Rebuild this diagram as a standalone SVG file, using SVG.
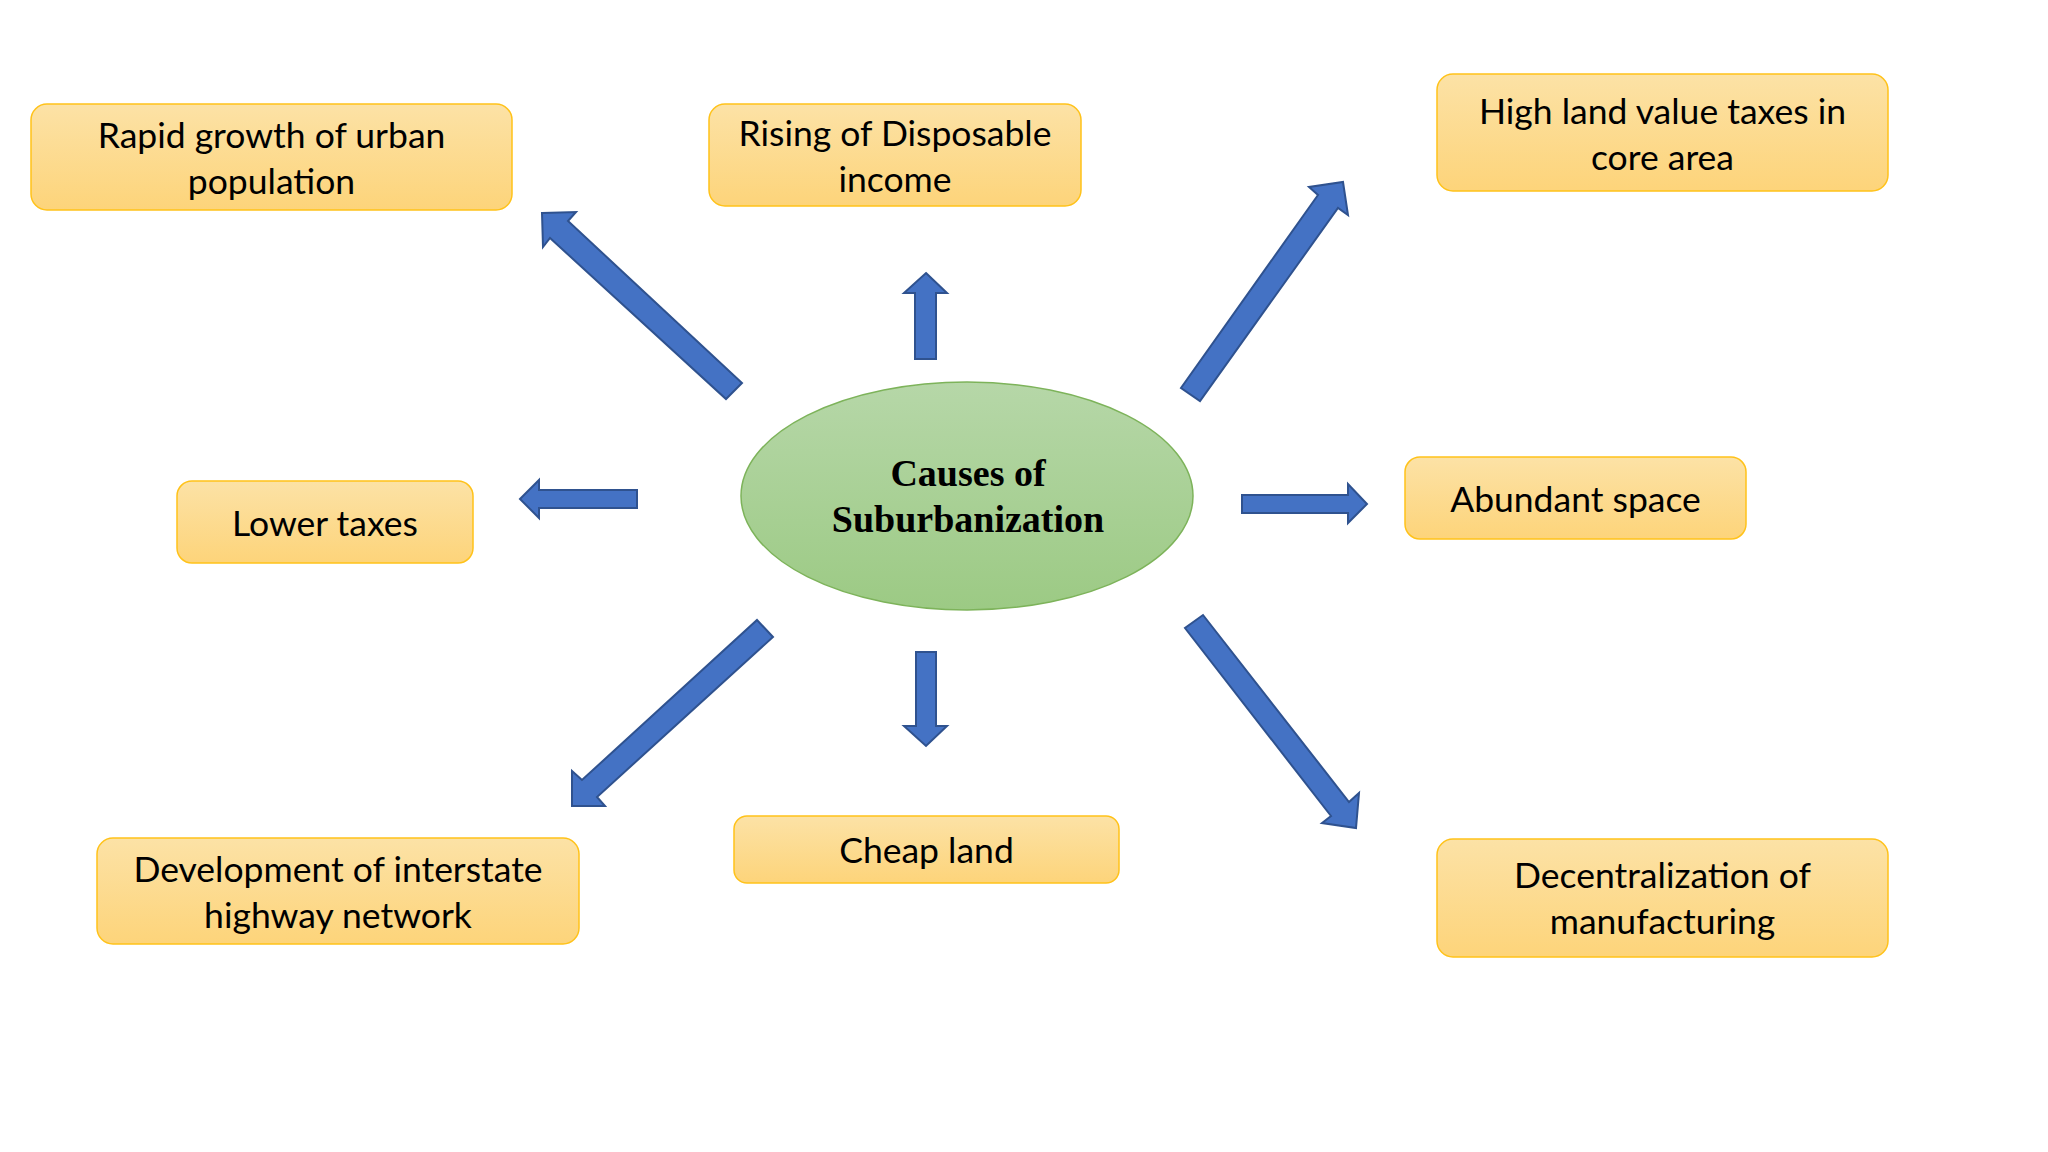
<svg xmlns="http://www.w3.org/2000/svg" width="2048" height="1152" viewBox="0 0 2048 1152">
<defs>
<linearGradient id="gold" x1="0" y1="0" x2="0" y2="1">
<stop offset="0" stop-color="#FCE2A6"/>
<stop offset="1" stop-color="#FDD47A"/>
</linearGradient>
<linearGradient id="green" x1="0" y1="0" x2="0" y2="1">
<stop offset="0" stop-color="#B6D7A8"/>
<stop offset="1" stop-color="#9CCA84"/>
</linearGradient>
</defs>
<style>
.box{fill:url(#gold);stroke:#FFC21A;stroke-width:1.5}
.lbl{font-family:Lato,"Liberation Sans",sans-serif;font-size:35.5px;fill:#000;text-anchor:middle}
.arr{fill:#4472C4;stroke:#2F528F;stroke-width:2;stroke-linejoin:miter}
.ctr{font-family:"Liberation Serif","Times New Roman",serif;font-weight:bold;font-size:38px;fill:#000;text-anchor:middle}
</style>
<rect width="2048" height="1152" fill="#fff"/>
<g id="center">
<ellipse cx="967" cy="496" rx="226" ry="114" fill="url(#green)" stroke="#7DB35A" stroke-width="1.5"/>
<text class="ctr" x="968" y="486">Causes of</text>
<text class="ctr" x="968" y="532">Suburbanization</text>
</g>
<g id="n1">
<rect class="box" x="31" y="104" width="481" height="106" rx="16"/>
<text class="lbl" x="271.5" y="148">Rapid growth of urban</text>
<text class="lbl" x="271.5" y="194">population</text>
</g>
<g id="n2">
<rect class="box" x="709" y="104" width="372" height="102" rx="16"/>
<text class="lbl" x="895" y="146">Rising of Disposable</text>
<text class="lbl" x="895" y="192">income</text>
</g>
<g id="n3">
<rect class="box" x="1437" y="74" width="451" height="117" rx="16"/>
<text class="lbl" x="1662.5" y="124">High land value taxes in</text>
<text class="lbl" x="1662.5" y="170">core area</text>
</g>
<g id="n4">
<rect class="box" x="177" y="481" width="296" height="82" rx="15"/>
<text class="lbl" x="325" y="536">Lower taxes</text>
</g>
<g id="n5">
<rect class="box" x="1405" y="457" width="341" height="82" rx="15"/>
<text class="lbl" x="1575.5" y="512">Abundant space</text>
</g>
<g id="n6">
<rect class="box" x="97" y="838" width="482" height="106" rx="16"/>
<text class="lbl" x="338" y="882">Development of interstate</text>
<text class="lbl" x="338" y="928">highway network</text>
</g>
<g id="n7">
<rect class="box" x="734" y="816" width="385" height="67" rx="13"/>
<text class="lbl" x="926.5" y="863">Cheap land</text>
</g>
<g id="n8">
<rect class="box" x="1437" y="839" width="451" height="118" rx="16"/>
<text class="lbl" x="1662.5" y="888">Decentralization of</text>
<text class="lbl" x="1662.5" y="934">manufacturing</text>
</g>
<g id="connectors">
<polygon class="arr" points="542,213 576,212 568,221 742,383 726,399 550,238 543,247"/>
<polygon class="arr" points="926,273 947,293 936,293 936,359 915,359 915,293 904,293"/>
<polygon class="arr" points="1343,182 1348,215 1338,208 1200,401 1181,388 1318,195 1309,187"/>
<polygon class="arr" points="520,499 539,480 539,490 637,490 637,508 539,508 539,518"/>
<polygon class="arr" points="1242,495 1348,495 1348,484 1367,504 1348,523 1348,513 1242,513"/>
<polygon class="arr" points="757,620 773,637 597,797 605,806 572,806 572,771 582,780"/>
<polygon class="arr" points="916,652 936,652 936,726 947,726 926,746 904,726 916,726"/>
<polygon class="arr" points="1203,615 1349,802 1359,793 1356,828 1322,823 1331,816 1185,628"/>
</g>
</svg>
